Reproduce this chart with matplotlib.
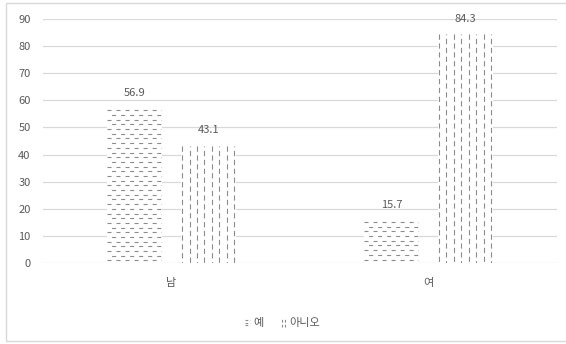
import numpy as np
import matplotlib
matplotlib.use("Agg")
import matplotlib.pyplot as plt
from matplotlib.patches import Rectangle

plt.rcParams['font.family'] = ['Noto Sans CJK KR', 'DejaVu Sans']
plt.rcParams['lines.scale_dashes'] = False

# 데이터
categories = ["남", "여"]
series_names = ["예", "아니오"]
yes_values = [56.9, 15.7]
no_values = [43.1, 84.3]
y_ticks = [0, 10, 20, 30, 40, 50, 60, 70, 80, 90]

text_color = "#595959"
hatch_color = "#8c8c8c"

fig = plt.figure(figsize=(5.66, 3.44), dpi=100)
ax = fig.add_axes([0.076, 0.2355, 0.908, 0.7095])

# 바깥 테두리
fig.patches.append(Rectangle((6 / 566, 3 / 344), 1.0, 338 / 344, transform=fig.transFigure,
                             fill=False, edgecolor="#d9d9d9", linewidth=1.0))

x = np.arange(len(categories))
width = 0.214
offset = 0.143

bars_yes = ax.bar(x - offset, yes_values, width, color="white", edgecolor="none", zorder=2)
bars_no = ax.bar(x + offset, no_values, width, color="white", edgecolor="none", zorder=2)


def dashed_fill(bar, horizontal):
    # 막대 안을 점선 무늬로 채움
    x0, y0 = bar.get_x(), bar.get_y()
    w, h = bar.get_width(), bar.get_height()
    if horizontal:
        for i, yy in enumerate(np.arange(y0 + h - 0.6, y0, -1.73)):
            ls = (0 if i % 2 == 0 else 3.2, (2.9, 3.6))
            ln, = ax.plot([x0, x0 + w], [yy, yy], color=hatch_color, lw=0.8,
                          linestyle=ls, zorder=3)
            ln.set_clip_path(bar)
    else:
        for i, xx in enumerate(np.linspace(x0 + 0.005, x0 + w - 0.005, 8)):
            ls = (0 if i % 2 == 0 else 3.2, (3.8, 2.6))
            ln, = ax.plot([xx, xx], [y0 + h, y0], color=hatch_color, lw=0.8,
                          linestyle=ls, zorder=3)
            ln.set_clip_path(bar)


for b in bars_yes:
    dashed_fill(b, True)
for b in bars_no:
    dashed_fill(b, False)

for bars, vals in [(bars_yes, yes_values), (bars_no, no_values)]:
    for b, v in zip(bars, vals):
        ax.text(b.get_x() + b.get_width() / 2, v + 4.0, f"{v:.1f}", ha="center", va="bottom",
                fontsize=8, color=text_color)

ax.set_xlim(-0.5, 1.5)
ax.set_ylim(0, 90)
ax.set_yticks(y_ticks)
ax.set_xticks(x)
ax.set_xticklabels(categories)
ax.tick_params(axis="both", length=0, labelsize=8, colors=text_color)
ax.tick_params(axis="y", pad=9)
ax.tick_params(axis="x", pad=11)
ax.grid(axis="y", color="#d9d9d9", linewidth=0.9, zorder=0)
ax.set_axisbelow(True)
for s in ax.spines.values():
    s.set_visible(False)

# 범례
ly = 0.062
for name, horizontal, px in [("예", True, 0.432), ("아니오", False, 0.496)]:
    sw = Rectangle((px, ly - 0.012), 0.01, 0.026, transform=fig.transFigure,
                   facecolor="white", edgecolor="none")
    fig.patches.append(sw)
    if horizontal:
        for dy in [-0.008, 0.0, 0.008]:
            fig.lines.append(plt.Line2D([px, px + 0.01], [ly + dy, ly + dy], transform=fig.transFigure,
                                        color=hatch_color, lw=0.8, dashes=(2, 1.5)))
    else:
        for dx in [0.002, 0.007]:
            fig.lines.append(plt.Line2D([px + dx, px + dx], [ly - 0.012, ly + 0.012],
                                        transform=fig.transFigure,
                                        color=hatch_color, lw=0.8, dashes=(2, 1.5)))
    fig.text(px + 0.015, ly, name, ha="left", va="center", fontsize=8, color=text_color)

fig.savefig("out.png", dpi=100)
